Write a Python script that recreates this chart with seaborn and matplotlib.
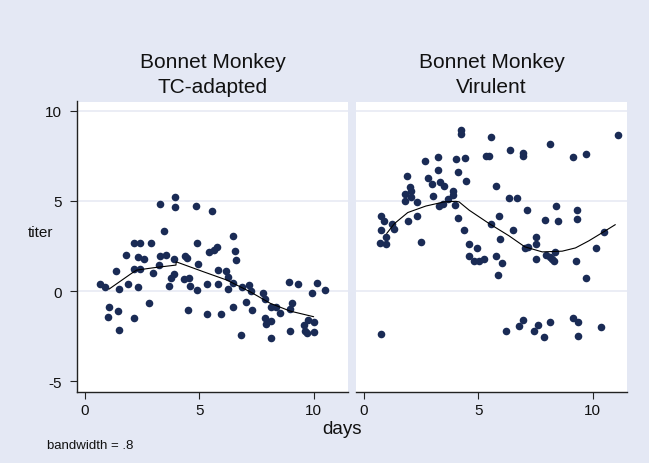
import numpy as np
import pandas as pd
import matplotlib
matplotlib.use('Agg')
import matplotlib.pyplot as plt
import seaborn as sns

sns.set_style('white')
plt.rcParams['font.family'] = ['Liberation Sans', 'DejaVu Sans']
plt.rcParams['axes.unicode_minus'] = False
plt.rcParams['text.color'] = '#111111'

# Bonnet Monkey, TC-adapted
tc_days = [0.66, 0.88, 1.07, 1.04, 1.39, 1.49, 1.48, 1.49, 1.83, 1.90,
           2.17, 2.44, 2.17, 2.44, 2.34, 2.59, 2.34, 2.17, 2.88, 2.82,
           3.00, 3.25, 3.29, 3.45, 3.29, 3.54, 3.92, 3.95, 3.95, 3.92,
           3.76, 3.67, 4.38, 4.46, 4.35, 4.57, 4.60, 4.52, 4.85, 4.91,
           4.89, 4.97, 5.33, 5.33, 5.55, 5.45, 5.65, 5.80, 5.84, 5.83,
           5.96, 6.17, 6.24, 6.50, 6.56, 6.60, 6.46, 6.27, 6.46, 6.85,
           6.88, 7.03, 7.20, 7.27, 7.32, 7.79, 7.89, 8.12, 8.37, 8.52,
           7.86, 8.14, 7.92, 8.14, 8.94, 9.33, 9.05, 8.95, 8.97, 9.57,
           9.61, 9.76, 9.71, 10.00, 10.02, 9.95, 10.15, 10.49]
tc_titer = [0.41, 0.20, -0.90, -1.44, 1.11, 0.13, -1.13, -2.16, 2.01, 0.41,
            2.69, 2.69, 1.20, 1.20, 1.90, 1.75, 0.22, -1.51, 2.69, -0.68,
            0.98, 1.46, 4.80, 3.30, 1.96, 1.99, 1.77, 5.22, 4.65, 0.94,
            0.70, 0.30, 1.94, 1.81, 0.65, 0.72, 0.30, -1.05, 4.70, 2.69,
            0.07, 1.49, 0.39, -1.27, 4.45, 2.18, 2.25, 2.42, 1.16, 0.41,
            -1.27, 1.13, 0.77, 3.04, 2.20, 1.70, 0.42, 0.13, -0.90, -2.45,
            0.22, -0.59, 0.33, 0.00, -1.05, -0.09, -0.44, -0.87, -0.87, -1.20,
            -1.51, -1.66, -1.83, -2.62, 0.52, 0.39, -0.65, -1.01, -2.20, -1.88,
            -2.21, -1.61, -2.31, -1.72, -2.25, -0.11, 0.44, 0.06]

# Bonnet Monkey, Virulent
vir_days = [0.77, 0.90, 0.75, 0.72, 0.99, 0.99, 1.23, 1.35, 0.77, 1.90,
            2.01, 2.06, 1.83, 1.83, 2.07, 2.32, 2.32, 1.94, 2.51, 2.70,
            2.83, 3.00, 3.04, 3.23, 3.23, 3.33, 3.51, 3.28, 3.48, 3.67,
            3.91, 3.91, 4.03, 4.12, 4.26, 4.26, 4.42, 4.46, 4.01, 4.14,
            4.39, 4.62, 4.94, 4.62, 4.80, 5.04, 5.26, 5.35, 5.49, 5.58,
            5.57, 5.77, 5.91, 5.96, 5.80, 6.06, 5.86, 6.20, 6.41, 6.36,
            6.68, 6.52, 6.78, 6.96, 6.96, 6.96, 7.13, 7.04, 7.19, 7.54,
            7.51, 7.54, 7.42, 7.61, 7.86, 7.90, 7.97, 8.13, 8.23, 8.33,
            8.13, 8.39, 8.48, 8.36, 8.12, 9.16, 9.72, 9.33, 9.33, 9.26,
            9.72, 9.16, 9.36, 9.35, 10.13, 10.38, 10.51, 11.10]
vir_titer = [4.18, 3.87, 3.39, 2.69, 2.58, 3.00, 3.70, 3.44, -2.36, 6.35,
             5.76, 5.56, 5.36, 5.01, 5.19, 4.94, 4.18, 3.90, 2.74, 7.20,
             6.28, 5.91, 5.25, 7.40, 6.70, 6.04, 5.82, 4.71, 4.84, 5.08,
             5.52, 5.30, 7.31, 6.59, 8.93, 8.71, 7.37, 6.08, 4.79, 4.07,
             3.37, 2.58, 2.39, 1.92, 1.66, 1.66, 1.77, 7.48, 7.48, 8.51,
             3.72, 5.80, 4.16, 2.87, 1.95, 1.57, 0.88, -2.21, 7.81, 5.17,
             5.17, 3.39, -1.93, 7.64, 7.46, -1.58, 4.48, 2.38, 2.45, 3.00,
             2.60, 1.77, -2.21, -1.88, -2.56, 3.94, 1.99, 1.90, 1.77, 1.68,
             8.12, 4.71, 3.89, 2.17, -1.73, 7.42, 7.59, 4.48, 3.98, 1.69,
             0.74, -1.51, -1.73, -2.50, 2.38, -2.01, 3.28, 8.62]

# lowess curves (bandwidth .8)
tc_smooth_days = [1.07, 2.05, 2.27, 3.00, 3.99, 4.00, 5.19, 6.21, 7.23, 8.11, 8.98, 10.00]
tc_smooth_titer = [0.11, 0.98, 1.16, 1.29, 1.44, 1.62, 1.07, 0.61, -0.04, -0.68, -1.11, -1.42]
vir_smooth_days = [1.01, 1.35, 1.93, 2.72, 3.52, 4.03, 4.17, 4.61, 5.48, 6.35, 7.04, 7.80,
                   8.67, 9.25, 9.83, 10.48, 10.99]
vir_smooth_titer = [3.19, 3.74, 4.35, 4.71, 4.94, 4.97, 4.94, 4.48, 3.74, 3.06, 2.45, 2.17,
                    2.21, 2.39, 2.78, 3.28, 3.68]

panels = [
    ('Bonnet Monkey\nTC-adapted', tc_days, tc_titer, tc_smooth_days, tc_smooth_titer),
    ('Bonnet Monkey\nVirulent', vir_days, vir_titer, vir_smooth_days, vir_smooth_titer),
]

bg = '#e4e8f4'
navy = '#1a2b55'
gridc = '#e5e8f2'
axc = '#222222'

W, H = 649, 464
fig = plt.figure(figsize=(W / 100, H / 100), dpi=100, facecolor=bg)
top, bottom = 102.5, 393.0
lefts = [77, 356]
width = 271

for i, (title, d, t, sd, st) in enumerate(panels):
    ax = fig.add_axes([lefts[i] / W, 1 - bottom / H, width / W, (bottom - top) / H])
    ax.set_facecolor('white')
    df = pd.DataFrame({'days': d, 'titer': t})
    sm = pd.DataFrame({'days': sd, 'titer': st})
    for yv in [0, 5, 10]:
        ax.axhline(yv, color=gridc, lw=1.1, zorder=0)
    sns.scatterplot(data=df, x='days', y='titer', ax=ax, color=navy, s=30,
                    linewidth=0, zorder=3)
    sns.lineplot(data=sm, x='days', y='titer', ax=ax, color='black', lw=0.8,
                 estimator=None, sort=False, zorder=4)
    ax.set_xlim(-0.33, 11.5)
    ax.set_ylim(-5.59, 10.5)
    ax.set_xticks([0, 5, 10])
    ax.set_xlabel('')
    ax.set_ylabel('')
    for s in ['top', 'right']:
        ax.spines[s].set_visible(False)
    ax.spines['bottom'].set_color(axc)
    ax.spines['bottom'].set_linewidth(1)
    ax.tick_params(axis='x', length=5, width=0.8, color=axc, pad=3,
                   labelsize=11, labelcolor='#111111', bottom=True)
    if i == 0:
        ax.set_yticks([-5, 0, 5, 10])
        ax.spines['left'].set_color(axc)
        ax.spines['left'].set_linewidth(1)
        ax.tick_params(axis='y', length=5, width=0.8, color=axc, pad=6,
                       labelsize=11, labelcolor='#111111', left=True)
    else:
        ax.set_yticks([])
        ax.spines['left'].set_visible(False)
    cx = (lefts[i] + width / 2) / W
    fig.text(cx, 1 - 93.3 / H, title, fontsize=15, ha='center', va='baseline',
             multialignment='center', linespacing=1.4)

fig.text(41 / W, 1 - 233 / H, 'titer', fontsize=11, ha='center', va='center')
fig.text(342 / W, 1 - 430 / H, 'days', fontsize=13.5, ha='center', va='center')
fig.text(47 / W, 1 - 445.7 / H, 'bandwidth = .8', fontsize=9.5, ha='left', va='center')

fig.savefig('out.png', dpi=100, facecolor=bg)
